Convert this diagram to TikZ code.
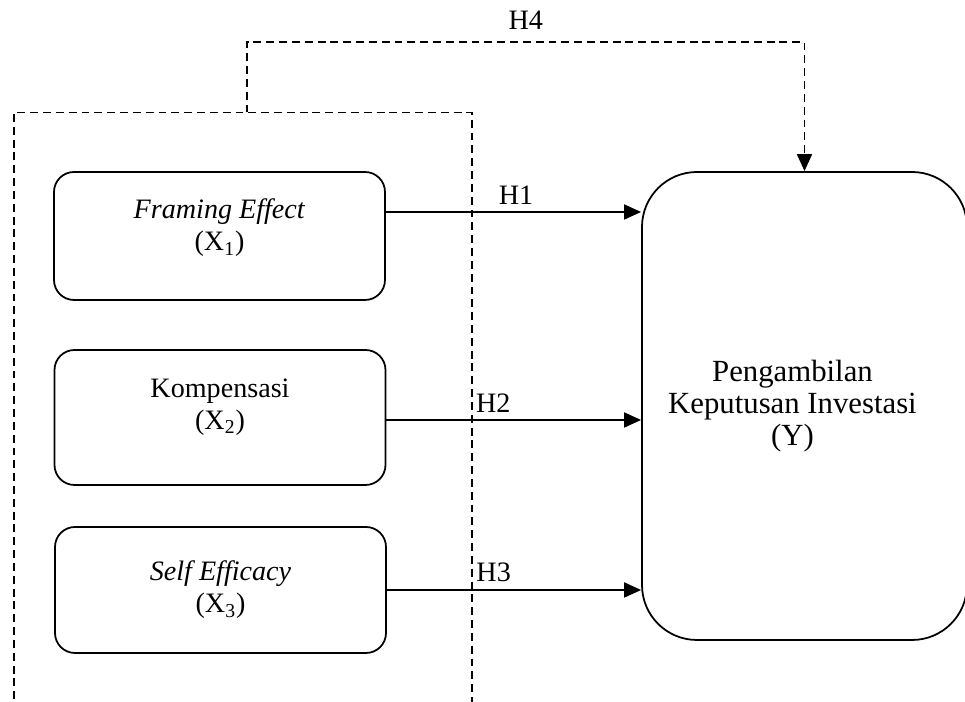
\documentclass[tikz,border=0pt]{standalone}
\usepackage{fontspec}
\setmainfont{Liberation Serif}
\usetikzlibrary{arrows.meta}
\begin{document}
\begin{tikzpicture}[font=\fontsize{16}{18.2}\selectfont, line width=1pt,
        varbox/.style={draw, rounded corners=0.4cm, minimum width=6.62cm},
        txt/.style={align=center, inner sep=0pt},
        arr/.style={-{Triangle[length=0.34cm, width=0.3cm]}},
        grpline/.style={dash pattern=on 4.5pt off 2.8pt}]
        \useasboundingbox (0,0) rectangle (19.3,14.04);
        % variabel bebas
        \node[varbox, minimum height=2.56cm] (x1) at (4.39,9.32) {};
        \node[varbox, minimum height=2.7cm] (x2) at (4.40,5.69) {};
        \node[varbox, minimum height=2.52cm] (x3) at (4.41,2.24) {};
        \node[txt] (x1txt) at ([yshift=0.16cm]x1.center) {\textit{Framing Effect}\\(X\textsubscript{1})};
        \node[txt] (x2txt) at ([yshift=0.21cm]x2.center) {Kompensasi\\(X\textsubscript{2})};
        \node[txt] (x3txt) at (x3.center) {\textit{Self Efficacy}\\(X\textsubscript{3})};
        % variabel terikat
        \node[draw, rounded corners=1.1cm, minimum width=6.5cm, minimum height=9.36cm] (y) at (16.09,5.92) {};
        \node[txt, font=\fontsize{17.5}{18.2}\selectfont] (ytxt) at ([xshift=-0.24cm]y.center)
            {Pengambilan\\Keputusan Investasi\\(Y)};
        % kotak garis putus-putus
        \begin{scope}
            \clip (0,0) rectangle (19.3,14.04);
            \draw[grpline] (0.28,-0.2) -- (0.28,11.79) -- (9.44,11.79) -- (9.44,-0.2);
        \end{scope}
        \coordinate (h4start) at (4.94,11.79);
        \draw[grpline, arr] (h4start) -- ++(0,1.41) -| (y.north)
            node[pos=0.25, above=0.12cm] (h4lbl) {H4};
        \draw[arr] ([yshift=0.48cm]x1.east) -- ([yshift=0.48cm]x1.east -| y.west)
            node[pos=0.51, above=0.02cm] (h1lbl) {H1};
        \draw[arr] ([yshift=-0.05cm]x2.east) -- ([yshift=-0.05cm]x2.east -| y.west)
            node[pos=0.42, above=0.02cm] (h2lbl) {H2};
        \draw[arr] (x3.east) -- (x3.east -| y.west)
            node[pos=0.42, above=0.02cm] (h3lbl) {H3};
\end{tikzpicture}
\end{document}
